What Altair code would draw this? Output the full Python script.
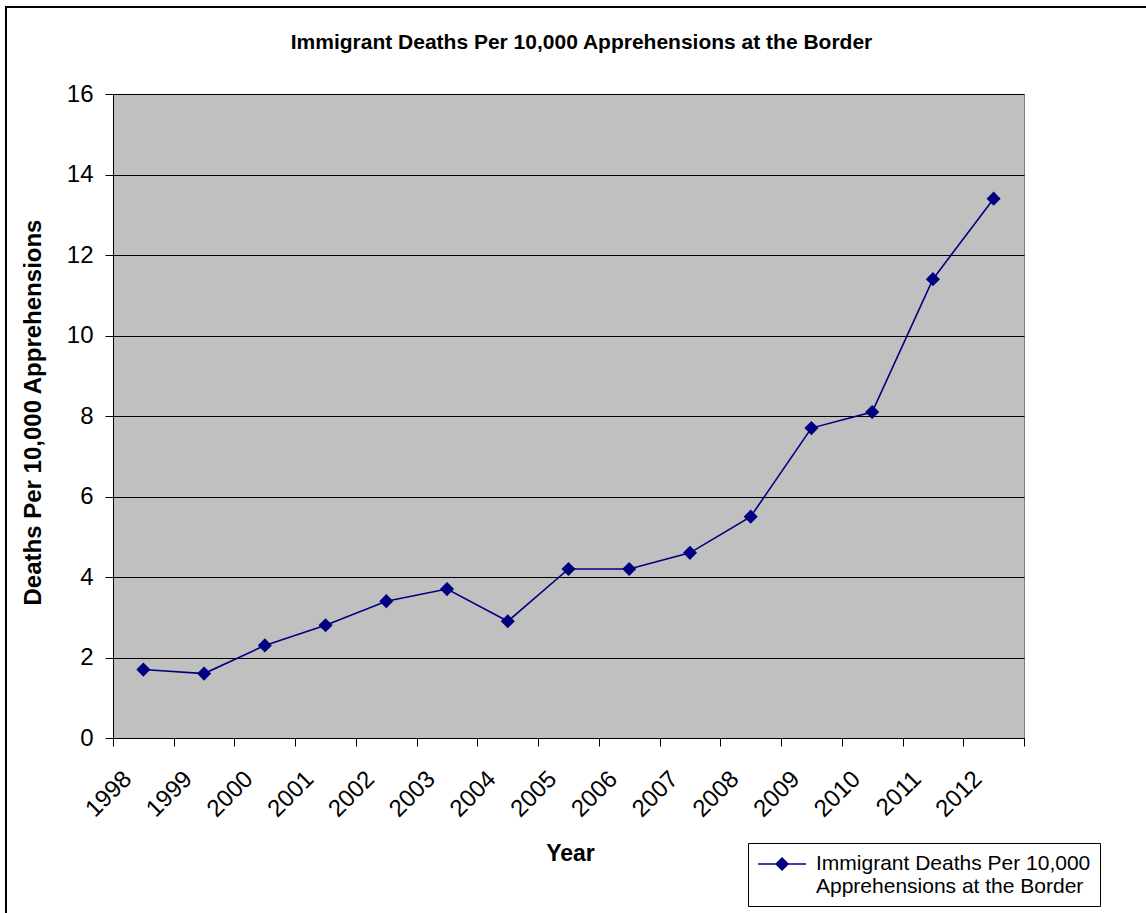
import altair as alt
import pandas as pd

years = ["1998", "1999", "2000", "2001", "2002", "2003", "2004", "2005",
         "2006", "2007", "2008", "2009", "2010", "2011", "2012"]
deaths = [1.7, 1.6, 2.3, 2.8, 3.4, 3.7, 2.9, 4.2, 4.2, 4.6, 5.5, 7.7, 8.1, 11.4, 13.4]
series_name = "Immigrant Deaths Per 10,000|Apprehensions at the Border"

df = pd.DataFrame({"Year": years, "Deaths": deaths, "Series": series_name})

FONT = "Liberation Sans"
NAVY = "#000080"

x_enc = alt.X(
    "Year:O",
    scale=alt.Scale(type="band", paddingInner=0, paddingOuter=0),
    bandPosition=0.5,
    axis=alt.Axis(
        title="Year", tickBand="extent", grid=False, labelAngle=-45,
        labelAlign="right", labelBaseline="middle", labelPadding=29,
        labelOffset=-16,
        labelFontSize=24, labelFont=FONT, labelColor="black",
        tickColor="black", tickSize=8, domainColor="black",
        titleFontSize=23, titleFont=FONT, titleFontWeight="bold",
        titleColor="black",
        titleX=457, titleY=115, titleBaseline="middle", titleAlign="center",
    ),
)
y_enc = alt.Y(
    "Deaths:Q",
    scale=alt.Scale(domain=[0, 16], nice=False),
    axis=alt.Axis(
        title="Deaths Per 10,000 Apprehensions", values=list(range(0, 17, 2)),
        grid=True, gridColor="black", gridOpacity=1, gridWidth=1,
        labelFontSize=24, labelFont=FONT, labelColor="black", labelPadding=12,
        tickColor="black", tickSize=8, domainColor="black",
        titleFontSize=24, titleFont=FONT, titleFontWeight="bold",
        titleColor="black",
        titleX=-80, titleY=318, titleAngle=-90, titleAlign="center",
        titleBaseline="middle",
    ),
)

legend_symbol = "M-1,0L3.4,0M1.2,-0.55L1.75,0L1.2,0.55L0.65,0Z"

line = alt.Chart(df).mark_line(color=NAVY, strokeWidth=1.6).encode(x=x_enc, y=y_enc)
pts = alt.Chart(df).mark_point(
    shape="diamond", filled=True, size=200, opacity=1
).encode(
    x=x_enc, y=y_enc,
    color=alt.Color(
        "Series:N", scale=alt.Scale(range=[NAVY]),
        legend=alt.Legend(
            title=None, orient="none", legendX=635, legendY=749,
            symbolType=legend_symbol, symbolSize=475, symbolStrokeWidth=1.5,
            symbolStrokeColor=NAVY, symbolFillColor=NAVY,
            labelExpr="split(datum.label, '|')",
            labelFontSize=21, labelFont=FONT, labelColor="black",
            labelLimit=400, labelOffset=35,
            strokeColor="black", fillColor="white", padding=9,
        ),
    ),
)

frame = alt.Chart(df).mark_rect(
    fill="transparent", stroke="black", strokeWidth=2
).encode(
    x=alt.value(-107), x2=alt.value(1045), y=alt.value(-87), y2=alt.value(830)
)

chart = alt.layer(frame, line, pts).properties(
    width=911, height=644,
    title=alt.TitleParams(
        "Immigrant Deaths Per 10,000 Apprehensions at the Border",
        fontSize=21, font=FONT, fontWeight="bold", color="black",
        anchor="middle", frame="group", offset=0, dx=13, dy=47,
    ),
    autosize=alt.AutoSizeParams(type="none"),
    padding={"left": 113, "top": 94, "right": 122, "bottom": 175},
    background="white",
).configure_view(
    fill="#C0C0C0", stroke="#808080", strokeWidth=1
)

chart.save("out.html", embed_options={"renderer": "svg", "actions": False})
